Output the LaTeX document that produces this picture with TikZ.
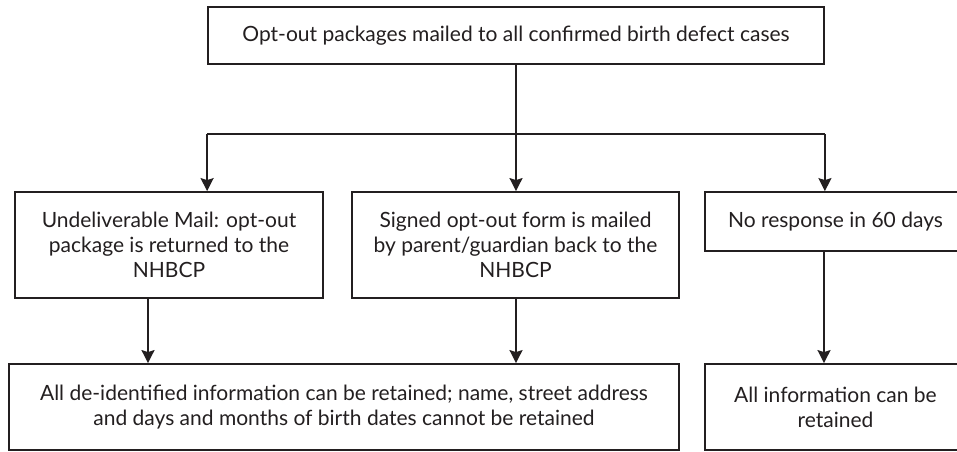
\documentclass[tikz,border=0pt]{standalone}
\usepackage{fontspec}
\setmainfont{Lato}
\usetikzlibrary{arrows.meta}
\definecolor{ink}{HTML}{231F20}
\begin{document}
\begin{tikzpicture}[x=1pt,y=-1pt,
  box/.style={draw=ink,line width=1.8pt,rectangle,inner sep=0pt,align=center,
    text=ink,font=\fontsize{21}{25}\selectfont},
  arr/.style={draw=ink,line width=1.8pt,-{Stealth[length=13pt,width=13pt,inset=2pt]}},
  link/.style={draw=ink,line width=1.8pt}]
\useasboundingbox (0,0) rectangle (957,451);
\clip (0,0) rectangle (957,451);
\fill[white] (0,0) rectangle (957,451);
\node[box,minimum width=616pt,minimum height=57pt] (top) at (516,35.5)
  {Opt-out packages mailed to all confirmed birth defect cases};
\node[box,minimum width=308pt,minimum height=106pt] (A) at (169,245)
  {Undeliverable Mail: opt-out\\package is returned to the\\NHBCP};
\node[box,minimum width=327pt,minimum height=106pt] (B) at (515.5,245)
  {Signed opt-out form is mailed\\by parent/guardian back to the\\NHBCP};
\node[box,minimum width=261pt,minimum height=59pt] (C) at (835.5,221.5)
  {No response in 60 days};
\node[box,minimum width=670pt,minimum height=86pt] (D) at (344,407)
  {All de-identified information can be retained; name, street address\\and days and months of birth dates cannot be retained};
\node[box,minimum width=261pt,minimum height=86pt] (E) at (835.5,407)
  {All information can be\\retained};
\coordinate (hy) at (0,134);
\coordinate (xa) at (148,0);
\coordinate (xb) at (516,0);
\coordinate (xc) at (824,0);
\draw[arr] (top.south -| xb) -- (B.north -| xb);
\draw[link] (top.south west |- hy) -- (top.south east |- hy);
\draw[arr] (top.south west |- hy) -- (top.south west |- A.north);
\draw[arr] (top.south east |- hy) -- (top.south east |- C.north);
\draw[arr] (A.south -| xa) -- (D.north -| xa);
\draw[arr] (B.south -| xb) -- (D.north -| xb);
\draw[arr] (C.south -| xc) -- (E.north -| xc);
\end{tikzpicture}
\end{document}
